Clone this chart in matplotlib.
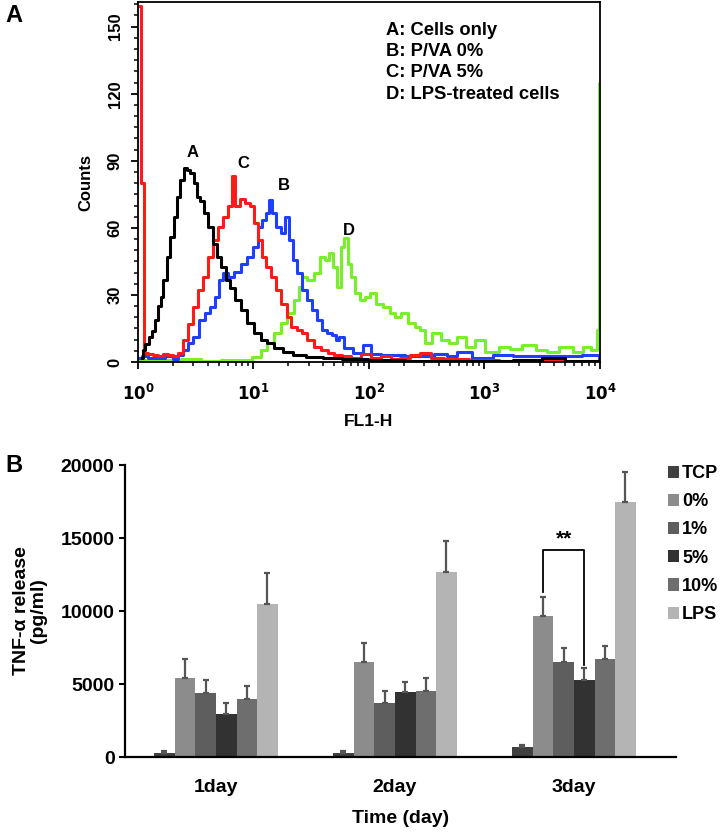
import numpy as np
import matplotlib
matplotlib.use("Agg")
import matplotlib.pyplot as plt
from matplotlib.patches import Patch
from matplotlib.ticker import MultipleLocator, LogLocator, NullFormatter

plt.rcParams['font.family'] = ['Liberation Sans', 'DejaVu Sans']
plt.rcParams['font.weight'] = 'bold'
plt.rcParams['mathtext.default'] = 'bf'

# ---------------- Panel A data (FL1-H exponent, counts) ----------------
a_exp = [0.035, 0.046, 0.078, 0.104, 0.130, 0.163, 0.191, 0.206, 0.235, 0.263, 0.293, 0.322,
         0.350, 0.380, 0.409, 0.437, 0.467, 0.496, 0.524, 0.554, 0.583, 0.626, 0.670, 0.698,
         0.742, 0.785, 0.815, 0.858, 0.916, 0.974, 1.032, 1.090, 1.148, 1.206, 1.293, 1.380,
         1.522, 1.670, 1.843, 2.104, 2.452, 2.800, 3.148, 3.322, 3.626, 3.757, 4.0]
a_cnt = [2, 5.4, 8, 11, 14, 18.8, 25, 29, 36.7, 47, 56, 65,
         74, 81.5, 86.7, 86, 84.5, 80, 74, 71.8, 66.6, 60.6, 53, 47,
         42.7, 36.7, 33, 27.8, 23.3, 17.3, 12.8, 9.9, 8.4, 6.1, 4.6, 3.1,
         2.4, 1.8, 1.2, 0.8, 0.6, 0.5, 0.6, 0.8, 1.8, 0.4, 0.3]

c_exp = [0.009, 0.039, 0.070, 0.104, 0.148, 0.191, 0.235, 0.278, 0.322, 0.365, 0.409, 0.452,
         0.496, 0.539, 0.583, 0.626, 0.670, 0.713, 0.757, 0.800, 0.829, 0.858, 0.902, 0.945,
         0.988, 1.017, 1.061, 1.090, 1.133, 1.177, 1.220, 1.264, 1.307, 1.350, 1.394, 1.437,
         1.496, 1.554, 1.612, 1.670, 1.728, 1.800, 1.887, 1.974, 2.061, 2.148, 2.226, 2.304,
         2.400, 2.487, 2.574, 2.713, 2.974, 3.235, 3.500, 4.0]
c_cnt = [159, 80, 4, 3.5, 3, 2.5, 3.5, 3, 2.5, 4, 9.9, 17,
         24.8, 32, 38, 47, 54.6, 60.6, 65, 70, 83, 69.6, 73, 71,
         69.6, 62, 54.6, 47, 42.7, 38, 32, 26, 20, 15.8, 14.3, 12.8,
         9.9, 6.9, 5.4, 3.9, 3.1, 2.5, 2, 3.5, 2, 2.5, 1.5, 2,
         3.2, 4, 2, 1.5, 0.8, 0.5, 0.5, 0.5]

b_exp = [0.009, 0.061, 0.104, 0.191, 0.278, 0.322, 0.365, 0.409, 0.452, 0.496, 0.554, 0.597,
         0.641, 0.684, 0.713, 0.757, 0.800, 0.858, 0.916, 0.974, 1.017, 1.061, 1.090, 1.119,
         1.148, 1.177, 1.220, 1.249, 1.293, 1.322, 1.365, 1.394, 1.437, 1.481, 1.524, 1.568,
         1.611, 1.655, 1.699, 1.728, 1.757, 1.815, 1.902, 1.989, 2.046, 2.148, 2.249, 2.365,
         2.487, 2.626, 2.713, 2.800, 2.974, 3.148, 3.322, 3.496, 3.670, 3.974, 4.0]
b_cnt = [2, 2.5, 2, 2, 2.5, 1.5, 3, 5.4, 8.4, 11, 18.8, 22,
         24.8, 29, 36.7, 39.7, 38, 40.4, 44, 47, 51.6, 60.6, 63.6, 66.6,
         72.5, 66.6, 60.6, 57.6, 65, 54.6, 45.7, 39.7, 32, 27.8, 23.3, 18.8,
         14.3, 13, 12, 9.9, 11.3, 6.2, 4, 7.6, 3.5, 3, 3.1, 2.5,
         2.5, 3.5, 2.5, 4.5, 2, 3, 2.5, 2.5, 2.5, 3, 1]

d_exp = [0.009, 0.104, 0.278, 0.452, 0.626, 0.800, 0.930, 1.032, 1.090, 1.148, 1.206, 1.264,
         1.322, 1.380, 1.409, 1.437, 1.496, 1.554, 1.597, 1.641, 1.670, 1.699, 1.742, 1.771,
         1.800, 1.829, 1.858, 1.902, 1.946, 1.989, 2.032, 2.090, 2.148, 2.206, 2.249, 2.307,
         2.365, 2.423, 2.467, 2.510, 2.574, 2.661, 2.719, 2.806, 2.878, 2.948, 3.058, 3.177,
         3.264, 3.380, 3.499, 3.586, 3.702, 3.818, 3.878, 3.960, 3.983, 3.996]
d_cnt = [0.5, 0.8, 1, 1.2, 0.5, 0.8, 1, 2.4, 5.4, 8.4, 12.8, 17.3,
         21.8, 27.8, 33.7, 38, 36.7, 39.7, 47, 45.7, 48.6, 42.7, 33.7, 51.6,
         55.4, 44, 38, 30.7, 27.8, 29, 30.7, 26, 24.8, 21.8, 20.3, 21.8,
         17.3, 15.8, 14.3, 8.4, 12.8, 9.9, 8.4, 11.3, 6.9, 9.9, 4.6, 6.9,
         6, 7.6, 5.4, 4.6, 6.9, 4.6, 6.9, 5.4, 14.3, 125]

hist_colors = {'A': '#000000', 'B': '#1f3fff', 'C': '#ff1a1a', 'D': '#77f02a'}
legend_lines = ['A: Cells only', 'B: P/VA 0%', 'C: P/VA 5%', 'D: LPS-treated cells']

# ---------------- Panel B data ----------------
days = ['1day', '2day', '3day']
groups = ['TCP', '0%', '1%', '5%', '10%', 'LPS']
tnf_mean = {
    'TCP': [270, 250, 660],
    '0%':  [5430, 6530, 9650],
    '1%':  [4360, 3670, 6530],
    '5%':  [2920, 4430, 5300],
    '10%': [3950, 4540, 6730],
    'LPS': [10480, 12690, 17470],
}
tnf_err = {
    'TCP': [130, 150, 150],
    '0%':  [1300, 1300, 1330],
    '1%':  [910, 870, 910],
    '5%':  [750, 730, 770],
    '10%': [910, 890, 890],
    'LPS': [2140, 2100, 2070],
}
bar_colors = {'TCP': '#404040', '0%': '#8c8c8c', '1%': '#5e5e5e',
              '5%': '#323232', '10%': '#6e6e6e', 'LPS': '#b4b4b4'}

fig = plt.figure(figsize=(7.25, 8.34), dpi=100)

# ================= Panel A =================
axA = fig.add_axes([0.1903, 0.5659, 0.6373, 0.4317])
order = [('D', d_exp, d_cnt), ('B', b_exp, b_cnt), ('C', c_exp, c_cnt), ('A', a_exp, a_cnt)]
for key, ex, cn in order:
    axA.step([10 ** e for e in ex], cn, where='mid', color=hist_colors[key], lw=2.2)
axA.set_xscale('log')
axA.set_xlim(1, 1e4)
axA.set_ylim(0, 161)
axA.yaxis.set_major_locator(MultipleLocator(30))
axA.yaxis.set_minor_locator(MultipleLocator(5))
axA.xaxis.set_minor_locator(LogLocator(base=10, subs=np.arange(2, 10), numticks=20))
axA.xaxis.set_minor_formatter(NullFormatter())
axA.set_xticks([1, 10, 100, 1000, 10000])
axA.set_xticklabels([r'$10^{0}$', r'$10^{1}$', r'$10^{2}$', r'$10^{3}$', r'$10^{4}$'], fontsize=12)
for lab in axA.get_yticklabels():
    lab.set_rotation(90)
    lab.set_va('center')
    lab.set_fontsize(12)
    lab.set_fontweight('bold')
axA.tick_params(axis='both', which='major', direction='out', length=5, width=1.3)
axA.tick_params(axis='both', which='minor', direction='out', length=3, width=1.1)
axA.tick_params(axis='x', which='major', pad=10)
axA.tick_params(axis='y', which='major', pad=6)
for s in axA.spines.values():
    s.set_linewidth(1.3)
axA.set_ylabel('Counts', fontsize=12, fontweight='bold', labelpad=10)
axA.set_xlabel('FL1-H', fontsize=12.5, fontweight='bold', labelpad=8)

curve_labels = [('A', 10 ** 0.47, 93.5), ('C', 10 ** 0.914, 89), ('B', 10 ** 1.26, 79), ('D', 10 ** 1.83, 59)]
for t, x, y in curve_labels:
    axA.text(x, y, t, ha='center', va='center', fontsize=12, fontweight='bold')
axA.text(0.537, 0.944, '\n'.join(legend_lines), transform=axA.transAxes,
         ha='left', va='top', fontsize=13.2, fontweight='bold', linespacing=1.32)
fig.text(0.008, 0.982, 'A', fontsize=17, fontweight='bold', va='center')

# ================= Panel B =================
axB = fig.add_axes([0.1724, 0.0923, 0.76, 0.3501])
n = len(groups)
w = 0.115
xc = np.arange(len(days))
for i, g in enumerate(groups):
    xs = xc + (i - (n - 1) / 2) * w
    axB.bar(xs, tnf_mean[g], width=w, color=bar_colors[g], label=g, zorder=2)
    axB.errorbar(xs, tnf_mean[g], yerr=[[0] * len(days), tnf_err[g]], fmt='none',
                 ecolor='#555555', elinewidth=1.6, capsize=2.5, capthick=1.6, zorder=3)

# significance bracket on day 3 between 0% and 5%
i0, i5 = groups.index('0%'), groups.index('5%')
x0 = xc[2] + (i0 - (n - 1) / 2) * w
x5 = xc[2] + (i5 - (n - 1) / 2) * w
ytop = 14200
axB.plot([x0, x0, x5, x5],
         [tnf_mean['0%'][2] + tnf_err['0%'][2] + 350, ytop, ytop,
          tnf_mean['5%'][2] + tnf_err['5%'][2] + 250],
         color='black', lw=1.3, zorder=4)
axB.text((x0 + x5) / 2, ytop + 100, '**', ha='center', va='bottom', fontsize=15, fontweight='bold')

axB.set_xlim(-0.508, 2.57)
axB.set_ylim(0, 20000)
axB.set_yticks([0, 5000, 10000, 15000, 20000])
axB.set_xticks(xc)
axB.set_xticklabels(days, fontsize=14, fontweight='bold')
for lab in axB.get_yticklabels():
    lab.set_fontsize(14)
    lab.set_fontweight('bold')
axB.tick_params(axis='y', direction='out', length=4, width=1.5)
axB.tick_params(axis='x', length=0, pad=16)
axB.spines['top'].set_visible(False)
axB.spines['right'].set_visible(False)
axB.spines['left'].set_linewidth(1.6)
axB.spines['bottom'].set_linewidth(1.6)
axB.set_ylabel('TNF-α release\n(pg/ml)', fontsize=14, fontweight='bold', labelpad=10, linespacing=1.0)
axB.set_xlabel('Time (day)', fontsize=14, fontweight='bold', labelpad=10)

handles = [Patch(facecolor=bar_colors[g], edgecolor='none') for g in groups]
axB.legend(handles, groups, loc='upper left', bbox_to_anchor=(0.985, 1.0), frameon=False,
           prop={'weight': 'bold', 'size': 13}, handlelength=0.65, handleheight=0.65,
           handletextpad=0.15, labelspacing=0.62, borderaxespad=0, borderpad=0)
fig.text(0.008, 0.442, 'B', fontsize=17, fontweight='bold', va='center')

fig.savefig('out.png', dpi=100)
